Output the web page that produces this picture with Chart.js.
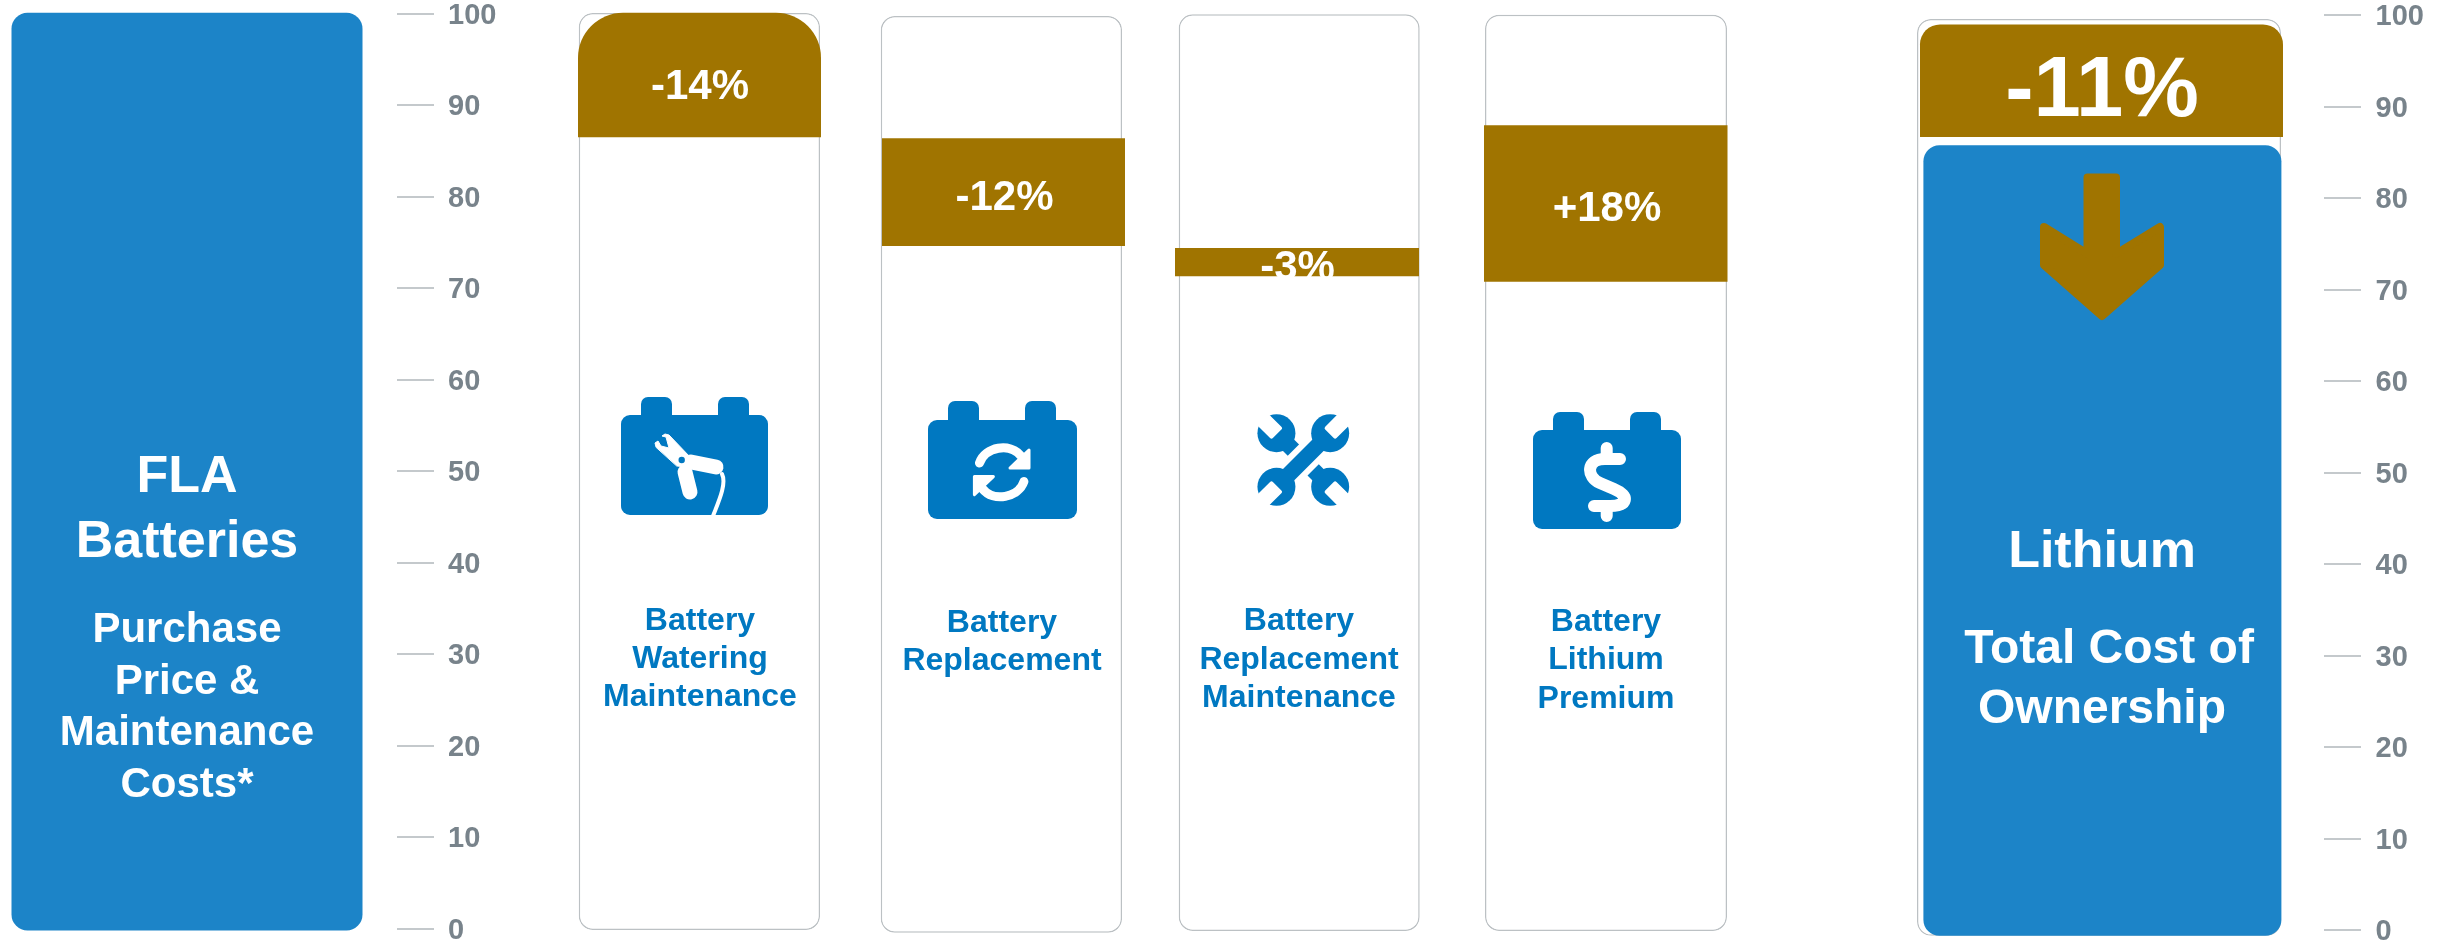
<!DOCTYPE html>
<html>
<head>
<meta charset="utf-8">
<title>FLA vs Lithium cost</title>
<script src="https://cdn.jsdelivr.net/npm/chart.js@4"></script>
<style>
  html, body { margin: 0; padding: 0; background: #fff; }
  #wrap { position: relative; width: 2443px; height: 941px; overflow: hidden; }
  #chart, #icons { position: absolute; left: 0; top: 0; }
  #icons { pointer-events: none; }
</style>
</head>
<body>
<div id="wrap">
  <canvas id="chart" width="2443" height="941"></canvas>
  <svg id="icons" width="2443" height="941" viewBox="0 0 2443 941">
    <!-- battery: watering -->
    <g fill="#0078c1">
      <rect x="641" y="397" width="31" height="30" rx="7"/><rect x="718" y="397" width="31" height="30" rx="7"/>
      <rect x="621" y="415" width="147" height="100" rx="9"/>
    </g>
    <g fill="#fff" stroke="#fff" stroke-linecap="round" stroke-linejoin="round">
      <path stroke-width="1" d="M656,447 L655,443 L658,441 L661,446 L669,448 L666,437 L662,436 L665,434 L669,435 L690,457 L700,459 L696,468 L677,466 Z"/>
      <path fill="none" stroke-width="15" d="M691,462 L716,467"/>
      <path fill="none" stroke-width="15" d="M685,472 L690,492"/>
      <path fill="none" stroke-width="4" d="M722,474 C727,484 718,503 713,516"/>
    </g>
    <circle cx="681.7" cy="460" r="3.2" fill="#0078c1"/>
    <!-- battery: replacement -->
    <g fill="#0078c1">
      <rect x="948" y="401" width="31" height="30" rx="7"/><rect x="1025" y="401" width="31" height="30" rx="7"/>
      <rect x="928" y="420" width="149" height="99" rx="9"/>
    </g>
    <g id="turn" fill="#fff" stroke="#fff" stroke-linejoin="round">
      <path fill="none" stroke-width="9" stroke-linecap="round" d="M979.5,463 C985,447 1010,442 1021,456"/>
      <path stroke-width="3" d="M1029,450 L1029,468 L1010,468 Z"/>
    </g>
    <use href="#turn" transform="rotate(180 1001.7 472.3)"/>
    <!-- crossed spanners -->
    <g transform="translate(1303.3 460)">
      <g transform="rotate(45)">
        <g fill="#0078c1"><circle cx="38" cy="0" r="19"/><circle cx="-38" cy="0" r="19"/><rect x="-38" y="-8" width="76" height="16"/></g>
        <g fill="#fff"><rect x="37" y="-8" width="24" height="16" rx="2"/><rect x="-61" y="-8" width="24" height="16" rx="2"/></g>
      </g>
      <g transform="rotate(135)">
        <rect x="-38" y="-14" width="76" height="28" fill="#fff"/>
        <g fill="#0078c1"><circle cx="38" cy="0" r="19"/><circle cx="-38" cy="0" r="19"/><rect x="-38" y="-8" width="76" height="16"/></g>
        <g fill="#fff"><rect x="37" y="-8" width="24" height="16" rx="2"/><rect x="-61" y="-8" width="24" height="16" rx="2"/></g>
      </g>
    </g>
    <!-- battery: lithium premium -->
    <g fill="#0078c1">
      <rect x="1553" y="412" width="31" height="30" rx="7"/><rect x="1630" y="412" width="31" height="30" rx="7"/>
      <rect x="1533" y="430" width="148" height="99" rx="9"/>
    </g>
    <g fill="none" stroke="#fff" stroke-width="12" stroke-linecap="round" stroke-linejoin="round">
      <path d="M1620,459 H1605 C1586,459 1586,477 1600,483 L1614,489 C1630,496 1628,506 1610,506 H1594"/>
      <path d="M1606.7,448 V458 M1606.7,506 V516"/>
    </g>
    <!-- down arrow in the lithium bar -->
    <path fill="#a07400" stroke="#a07400" stroke-width="8" stroke-linejoin="round"
      d="M2087.5,177.5 H2116 V254 L2160,227 V265 L2102,316 L2044,265 V227 L2087.5,254 Z"/>
  </svg>
</div>
<script>
// value axis
const axisTicks = [0, 10, 20, 30, 40, 50, 60, 70, 80, 90, 100];

// blue totals, low / high ends
const totalNames = ['FLA Batteries', 'Lithium'];
const totalLow = [-0.2, -0.6];
const totalHigh = [100.1, 85.8];

// brown change segments
const stepNames = ['Battery Watering Maintenance', 'Battery Replacement', 'Battery Replacement Maintenance', 'Battery Lithium Premium', 'Total Cost of Ownership'];
const stepLow = [86.5, 74.6, 71.3, 70.7, 86.7];
const stepHigh = [100.1, 86.4, 74.4, 87.8, 99.0];
const stepLabels = ['-14%', '-12%', '-3%', '+18%', '-11%'];

// outlined cards behind the segments
const cardLow = [-0.14, -0.44, -0.25, -0.25, -0.6];
const cardHigh = [100.07, 99.75, 99.93, 99.89, 99.6];

// layout, x scale runs in page pixels
const totalCentre = [187, 2102.4], totalWidth = [351, 358];
const stepCentre = [699.5, 1003.5, 1297, 1605.75, 2101.5], stepWidth = [243, 243, 244, 243.5, 363];
const cardCentre = [699.4, 1001.4, 1299.2, 1606, 2099], cardWidth = [241.3, 241.3, 241, 242, 364];

const blue = '#1c84c8', brown = '#a07400', iconBlue = '#0078c1';
const font = '"Liberation Sans", Arial, sans-serif';

const datasets = [];
function addBar(label, x, w, low, high, axis, order, style) {
    datasets.push(Object.assign({
        label: label,
        data: [{ x: x, y: [low, high] }],
        barThickness: w,
        yAxisID: axis,
        order: order,
        inflateAmount: 0,
        borderSkipped: false
    }, style));
}

stepNames.forEach(function(name, i) {
    const last = i === stepNames.length - 1;
    let radius = 0;
    if (i === 0) radius = { topLeft: 45, topRight: 45, bottomLeft: 0, bottomRight: 0 };
    if (last) radius = { topLeft: 20, topRight: 20, bottomLeft: 0, bottomRight: 0 };
    addBar(name, stepCentre[i], stepWidth[i], stepLow[i], stepHigh[i], last ? 'yRight' : 'y', 1,
        { backgroundColor: brown, borderRadius: radius });
    addBar(name + ' card', cardCentre[i], cardWidth[i], cardLow[i], cardHigh[i], last ? 'yRight' : 'y', 3,
        { backgroundColor: '#fff', borderColor: '#bcc1c4', borderWidth: 1.5, borderRadius: 14 });
});
totalNames.forEach(function(name, i) {
    addBar(name, totalCentre[i], totalWidth[i], totalLow[i], totalHigh[i], i ? 'yRight' : 'y', 2,
        { backgroundColor: blue, borderRadius: 16 });
});

function valueAxis(min, max, padding) {
    return {
        position: 'right',
        min: min,
        max: max,
        bounds: 'data',
        stacked: false,
        afterBuildTicks: function(scale) { scale.ticks = axisTicks.map(function(v) { return { value: v }; }); },
        afterFit: function(scale) {
            // no room taken from the plot, the scale has to span the full height
            scale.width = 0;
            scale.paddingTop = 0;
            scale.paddingBottom = 0;
        },
        border: { display: false },
        grid: { drawOnChartArea: false, drawTicks: true, tickLength: 37, color: '#c4c9cc', lineWidth: 2 },
        ticks: {
            color: '#78838b',
            padding: padding,
            labelOffset: 2,
            autoSkip: false,
            crossAlign: 'near',
            font: { family: font, size: 29, weight: 'bold' },
            callback: function(v) { return v; }
        }
    };
}

// the two value axes stand between the bars, not on the chart edge
const axisPlacement = {
    id: 'axisPlacement',
    afterLayout: function(chart) {
        chart.scales.y.left = 397; chart.scales.y.right = 560;
        chart.scales.yRight.left = 2324; chart.scales.yRight.right = 2443;
    }
};

const white = '#fff';
const textRows = [
    ['FLA', 187, 492, 52, white], ['Batteries', 187, 557, 52, white],
    ['Purchase', 187, 642, 42, white], ['Price &', 187, 694, 42, white],
    ['Maintenance', 187, 745, 42, white], ['Costs*', 187, 797, 42, white],
    ['Battery', 700, 630, 32, iconBlue], ['Watering', 700, 668, 32, iconBlue], ['Maintenance', 700, 706, 32, iconBlue],
    ['Battery', 1002, 632, 32, iconBlue], ['Replacement', 1002, 670, 32, iconBlue],
    ['Battery', 1299, 630, 32, iconBlue], ['Replacement', 1299, 669, 32, iconBlue], ['Maintenance', 1299, 707, 32, iconBlue],
    ['Battery', 1606, 631, 32, iconBlue], ['Lithium', 1606, 669, 32, iconBlue], ['Premium', 1606, 708, 32, iconBlue],
    ['Lithium', 2102, 567, 52, white], ['Total Cost of', 2109, 663, 48, white], ['Ownership', 2102, 723, 48, white]
];
const stepLabelPos = [[700, 99, 42], [1004.5, 210, 42], [1297.5, 280, 42], [1607, 221, 42], [2102, 116, 85]];

const panelText = {
    id: 'panelText',
    afterDatasetsDraw: function(chart) {
        const ctx = chart.ctx;
        ctx.save();
        ctx.textAlign = 'center';
        ctx.textBaseline = 'alphabetic';
        textRows.forEach(function(r) {
            ctx.font = 'bold ' + r[3] + 'px ' + font;
            ctx.fillStyle = r[4];
            ctx.fillText(r[0], r[1], r[2]);
        });
        ctx.fillStyle = white;
        stepLabels.forEach(function(t, i) {
            ctx.font = 'bold ' + stepLabelPos[i][2] + 'px ' + font;
            ctx.fillText(t, stepLabelPos[i][0], stepLabelPos[i][1]);
        });
        ctx.restore();
    }
};

new Chart(document.getElementById('chart').getContext('2d'), {
    type: 'bar',
    data: { datasets: datasets },
    plugins: [axisPlacement, panelText],
    options: {
        responsive: false,
        animation: false,
        layout: { padding: 0, autoPadding: false },
        plugins: { legend: { display: false }, tooltip: { enabled: false } },
        scales: {
            x: { type: 'linear', min: 0, max: 2443, stacked: true, offset: false, display: false },
            y: valueAxis(-1.344, 101.497, 14),
            yRight: valueAxis(-1.169, 101.672, 14.5)
        }
    }
});
</script>
</body>
</html>
